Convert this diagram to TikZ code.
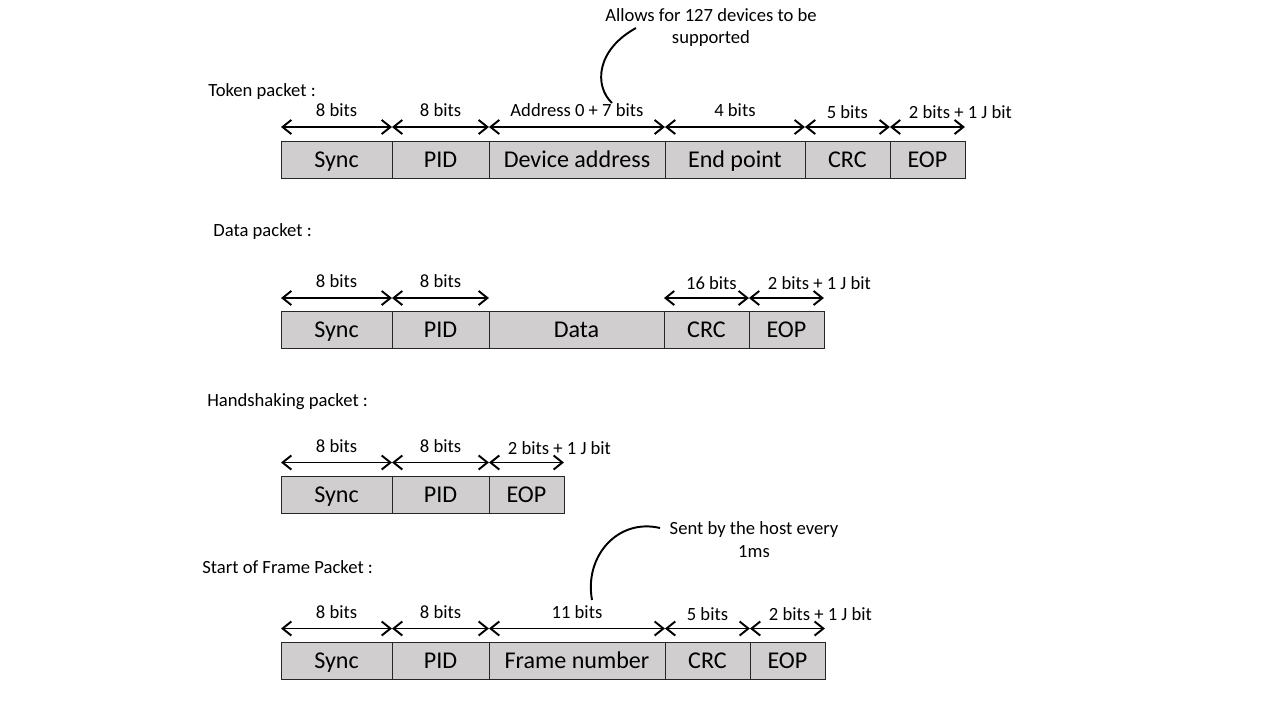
\documentclass[tikz,border=0pt]{standalone}
\usepackage{fontspec}
\setmainfont{Carlito}
\usetikzlibrary{arrows.meta, positioning}
\definecolor{fieldgray}{RGB}{208,206,206}
\tikzstyle{field} = [rectangle, 
draw=black!85, 
fill=fieldgray, 
inner sep=0pt, outer sep=0pt,
minimum height=0.74cm, 
text height=2.2ex, text depth=0.3ex,
font=\fontsize{13.7}{16}\selectfont]
\tikzstyle{span} = [{Straight Barb[length=5pt,width=8pt]}-{Straight Barb[length=5pt,width=8pt]}, line width=1.1pt]
\tikzstyle{bits} = [midway, above=5.2pt, inner sep=0pt, font=\fontsize{10.6}{12}\selectfont]
\tikzstyle{title} = [anchor=west, inner sep=0pt, font=\fontsize{10.6}{12}\selectfont]
\tikzstyle{note} = [align=center, inner sep=0pt, font=\fontsize{10.6}{13}\selectfont]

\begin{document}
\begin{tikzpicture}[x=0.02cm, y=-0.02cm]

		% Canvas of the slide
		\useasboundingbox (0,0) rectangle (1280,720);

		% Token packet
		\node[title] (ttitle) at (208,92) {Token packet :};
		\node[field, minimum width=2.22cm] (tsync) at (336.5,159.5) {Sync};
		\node[field, minimum width=1.94cm, right=0pt of tsync] (tpid) {PID};
		\node[field, minimum width=3.52cm, right=0pt of tpid] (taddr) {Device address};
		\node[field, minimum width=2.80cm, right=0pt of taddr] (tend) {End point};
		\node[field, minimum width=1.70cm, right=0pt of tend] (tcrc) {CRC};
		\node[field, minimum width=1.50cm, right=0pt of tcrc] (teop) {EOP};
		\foreach \f/\t in {tsync/8 bits, tpid/8 bits, taddr/Address 0 + 7 bits, tend/4 bits}
			\draw[span] ([yshift=0.28cm]\f.north west) -- ([yshift=0.28cm]\f.north east) node[bits] {\t};
		\draw[span] ([yshift=0.28cm]tcrc.north west) -- ([yshift=0.28cm]tcrc.north east) node[bits, yshift=-0.04cm] {5 bits};
		\draw[span] ([yshift=0.28cm]teop.north west) -- ([yshift=0.28cm]teop.north east) node[bits, yshift=-0.04cm, xshift=0.66cm] {2 bits + 1 J bit};

		% Note on the address
		\node[note] (tnote) at (711,27.5) {Allows for 127 devices to be\\supported};
		\coordinate (tfrom) at (636,28);
		\coordinate (tto) at (612,103);
		\draw[line width=1.1pt] (tfrom) .. controls (596,50) and (594,86) .. (tto);

		% Data packet
		\node[title] (dtitle) at (213,232) {Data packet :};
		\node[field, minimum width=2.22cm] (dsync) at (336.5,330) {Sync};
		\node[field, minimum width=1.94cm, right=0pt of dsync] (dpid) {PID};
		\node[field, minimum width=3.50cm, right=0pt of dpid] (ddata) {Data};
		\node[field, minimum width=1.70cm, right=0pt of ddata] (dcrc) {CRC};
		\node[field, minimum width=1.50cm, right=0pt of dcrc] (deop) {EOP};
		\foreach \f/\t in {dsync/8 bits, dpid/8 bits}
			\draw[span] ([yshift=0.27cm]\f.north west) -- ([yshift=0.27cm]\f.north east) node[bits] {\t};
		\draw[span] ([yshift=0.27cm]dcrc.north west) -- ([yshift=0.27cm]dcrc.north east) node[bits, yshift=-0.04cm, xshift=0.1cm] {16 bits};
		\draw[span] ([yshift=0.27cm]deop.north west) -- ([yshift=0.27cm]deop.north east) node[bits, yshift=-0.04cm, xshift=0.66cm] {2 bits + 1 J bit};

		% Handshaking packet
		\node[title] (htitle) at (207,402) {Handshaking packet :};
		\node[field, minimum width=2.22cm] (hsync) at (336.5,494.5) {Sync};
		\node[field, minimum width=1.94cm, right=0pt of hsync] (hpid) {PID};
		\node[field, minimum width=1.50cm, right=0pt of hpid] (heop) {EOP};
		\foreach \f/\t in {hsync/8 bits, hpid/8 bits}
			\draw[span] ([yshift=0.27cm]\f.north west) -- ([yshift=0.27cm]\f.north east) node[bits] {\t};
		\draw[span] ([yshift=0.27cm]heop.north west) -- ([yshift=0.27cm]heop.north east) node[bits, yshift=-0.04cm, xshift=0.66cm] {2 bits + 1 J bit};

		% Start of Frame packet
		\node[title] (stitle) at (202,567) {Start of Frame Packet :};
		\node[field, minimum width=2.22cm] (ssync) at (336.5,660.5) {Sync};
		\node[field, minimum width=1.94cm, right=0pt of ssync] (spid) {PID};
		\node[field, minimum width=3.52cm, right=0pt of spid] (sframe) {Frame number};
		\node[field, minimum width=1.70cm, right=0pt of sframe] (scrc) {CRC};
		\node[field, minimum width=1.50cm, right=0pt of scrc] (seop) {EOP};
		\foreach \f/\t in {ssync/8 bits, spid/8 bits, sframe/11 bits}
			\draw[span] ([yshift=0.27cm]\f.north west) -- ([yshift=0.27cm]\f.north east) node[bits] {\t};
		\draw[span] ([yshift=0.27cm]scrc.north west) -- ([yshift=0.27cm]scrc.north east) node[bits, yshift=-0.04cm] {5 bits};
		\draw[span] ([yshift=0.27cm]seop.north west) -- ([yshift=0.27cm]seop.north east) node[bits, yshift=-0.04cm, xshift=0.66cm] {2 bits + 1 J bit};

		% Note on the frame
		\node[note] (snote) at (754,539.5) {Sent by the host every\\1ms};
		\coordinate (sfrom) at (660,528);
		\coordinate (sto) at (592,600);
		\draw[line width=1.1pt] (sfrom) .. controls (618,518) and (584,556) .. (sto);

\end{tikzpicture}
\end{document}
